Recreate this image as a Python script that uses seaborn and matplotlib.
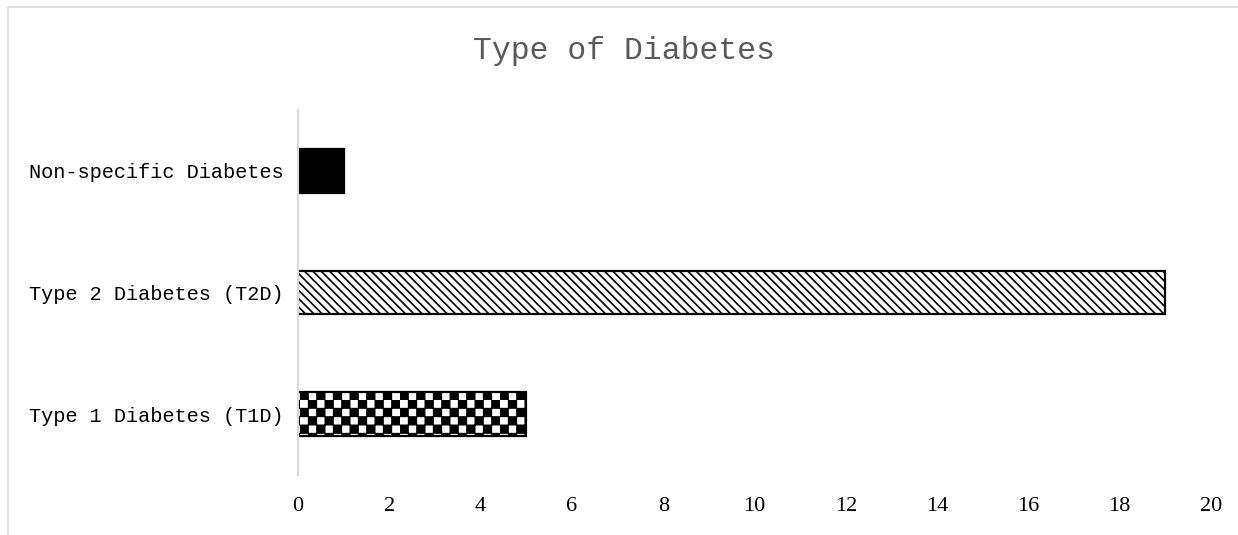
import numpy as np
import pandas as pd
import matplotlib
matplotlib.use("Agg")
import matplotlib.pyplot as plt
import seaborn as sns
from matplotlib import hatch as mhatch
from matplotlib.path import Path
from matplotlib.patches import Rectangle

categories = ["Non-specific Diabetes", "Type 2 Diabetes (T2D)", "Type 1 Diabetes (T1D)"]
counts = [1, 19, 5]
x_ticks = [0, 2, 4, 6, 8, 10, 12, 14, 16, 18, 20]
title = "Type of Diabetes"


# custom checkerboard hatch, bound to the 'o' character
class Checker(mhatch.HatchPatternBase):
    def __init__(self, hatch, density):
        self.n = int(hatch.count('o') * density)
        self.cells = 2 * self.n
        nsq = 0
        if self.n:
            nsq = sum(1 for i in range(self.cells) for j in range(self.cells) if (i + j) % 2 == 0)
        self.num_vertices = nsq * 5

    def set_vertices_and_codes(self, vertices, codes):
        s = 1.0 / self.cells
        e = 0.002
        k = 0
        for i in range(self.cells):
            for j in range(self.cells):
                if (i + j) % 2:
                    continue
                x0, y0 = i * s + e, j * s + e
                x1, y1 = (i + 1) * s - e, (j + 1) * s - e
                vertices[k:k + 5] = [(x0, y0), (x1, y0), (x1, y1), (x0, y1), (x0, y0)]
                codes[k:k + 5] = [Path.MOVETO, Path.LINETO, Path.LINETO, Path.LINETO, Path.CLOSEPOLY]
                k += 5


mhatch._hatch_types = [t for t in mhatch._hatch_types if t is not mhatch.SmallCircles] + [Checker]

sns.set_theme(style="white")
plt.rcParams["hatch.linewidth"] = 1.0
plt.rcParams["hatch.color"] = "black"

df = pd.DataFrame({"type": categories, "count": counts})

fig = plt.figure(figsize=(12.38, 5.35), dpi=100)
ax = fig.add_axes([298 / 1238, 1 - 475 / 535, (1211 - 298) / 1238, 365 / 535])

sns.barplot(data=df, x="count", y="type", orient="h", order=categories,
            color="white", width=0.36, edgecolor="black", linewidth=1.6, ax=ax)

hatches = {"Non-specific Diabetes": None, "Type 2 Diabetes (T2D)": "\\\\\\\\", "Type 1 Diabetes (T1D)": "o"}
for patch, cat in zip(ax.patches, categories):
    h = hatches[cat]
    if h is None:
        patch.set_facecolor("black")
    else:
        patch.set_facecolor("white")
        patch.set_hatch(h)
        if h.startswith("\\") and hasattr(patch, "set_hatch_linewidth"):
            patch.set_hatch_linewidth(1.2)

ax.set_xlim(0, 20)
ax.set_ylim(2.5, -0.5)
ax.set_xticks(x_ticks)
ax.set_xticklabels([str(t) for t in x_ticks], fontfamily="Liberation Serif", fontsize=16, color="black")
ax.set_yticklabels(categories, fontfamily="Liberation Mono", fontsize=14.6, color="black")
ax.tick_params(axis="x", length=0, pad=16)
ax.tick_params(axis="y", length=0, pad=10.5)
ax.set_xlabel("")
ax.set_ylabel("")
for side in ["top", "right", "bottom"]:
    ax.spines[side].set_visible(False)
ax.spines["left"].set_color("#d9d9d9")
ax.spines["left"].set_linewidth(1.5)
ax.grid(False)

fig.text(624 / 1238, 1 - 51 / 535, title, ha="center", va="center",
         fontfamily="Liberation Mono", fontsize=22.6, color="#595959")

border = Rectangle((8 / 1238, -0.2), 1.2, 1.2 - 7 / 535, transform=fig.transFigure,
                   fill=False, edgecolor="#d9d9d9", linewidth=1.2, clip_on=False)
fig.patches.append(border)

fig.savefig("out.png", dpi=100)
